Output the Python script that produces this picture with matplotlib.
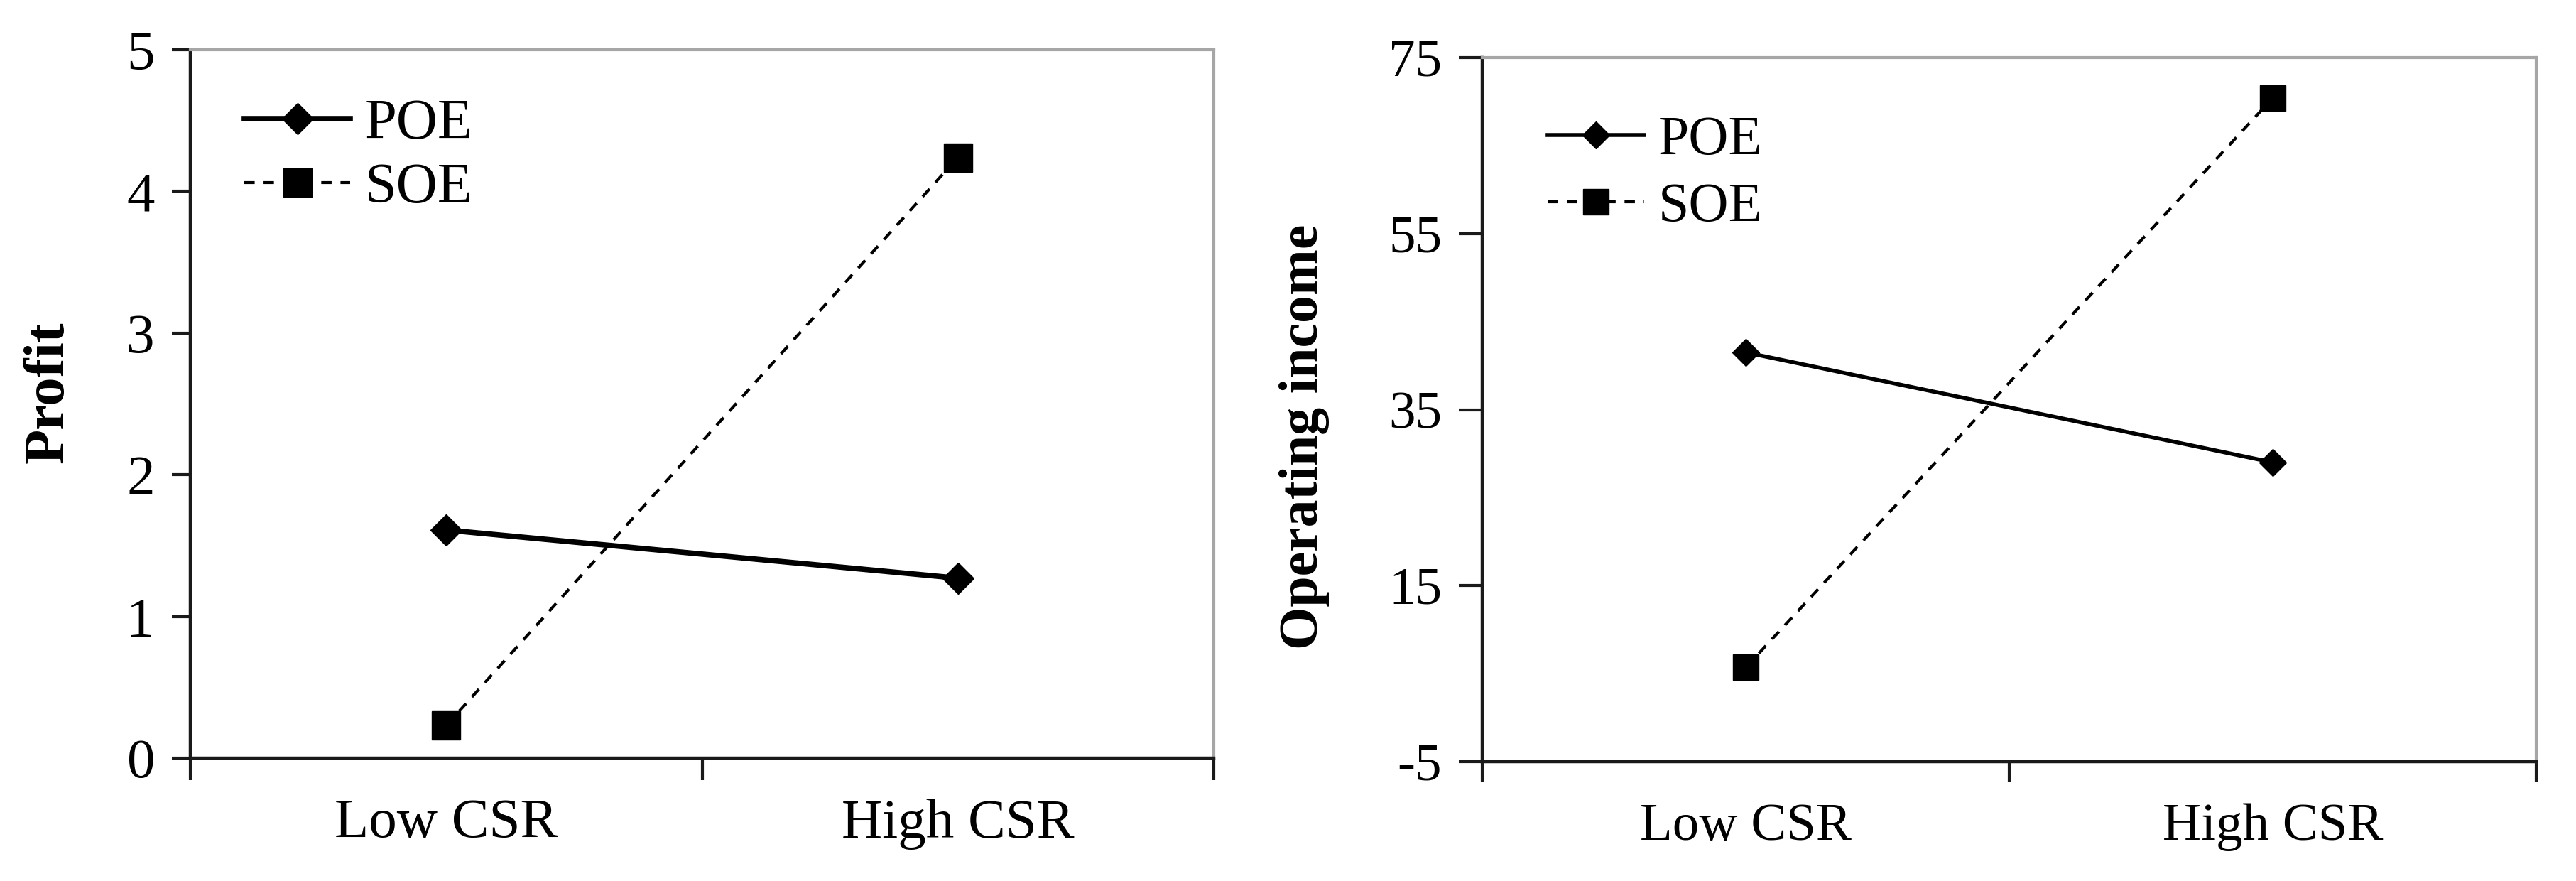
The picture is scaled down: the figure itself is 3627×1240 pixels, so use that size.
import numpy as np
import matplotlib
matplotlib.use('Agg')
import matplotlib.pyplot as plt

plt.rcParams['font.family'] = ['Liberation Serif', 'DejaVu Serif']
plt.rcParams['axes.unicode_minus'] = False

# data
groups = ['Low CSR', 'High CSR']
series = ['POE', 'SOE']
profit_poe = [1.61, 1.27]
profit_soe = [0.23, 4.24]
income_poe = [41.5, 29.0]
income_soe = [5.7, 70.4]

profit_ticks = [0, 1, 2, 3, 4, 5]
income_ticks = [-5, 15, 35, 55, 75]

W, H = 3627, 1240
fig = plt.figure(figsize=(W / 100, H / 100), dpi=100)

ax1 = fig.add_axes([268 / W, 1 - 1067 / H, 1441 / W, 997 / H])
ax2 = fig.add_axes([2087 / W, 1 - 1072 / H, 1484 / W, 991 / H])

dark = '#1a1a1a'
grey = '#a6a6a6'


def style(ax, fs, ytick_len, xtick_len, xpad):
    x = np.arange(len(groups))
    ax.set_xlim(-0.5, len(groups) - 0.5)
    ax.set_xticks([-0.5, 0.5, 1.5])
    ax.set_xticklabels([])
    ax.set_xticks(x, minor=True)
    ax.set_xticklabels(groups, minor=True, fontsize=fs)
    ax.tick_params(axis='x', which='major', direction='out', length=xtick_len,
                   width=3, color=dark)
    ax.tick_params(axis='x', which='minor', length=0, pad=xpad)
    ax.tick_params(axis='y', direction='out', length=ytick_len, width=3,
                   color=dark, labelsize=fs, pad=17)
    for s in ['left', 'bottom']:
        ax.spines[s].set_color(dark)
        ax.spines[s].set_linewidth(3.2)
    for s in ['top', 'right']:
        ax.spines[s].set_color(grey)
        ax.spines[s].set_linewidth(3)


def draw(ax, poe, soe, lw_poe, ms_d, ms_s):
    x = np.arange(len(groups))
    ax.plot(x, poe, color='black', lw=lw_poe, marker='D', ms=ms_d,
            label=series[0], clip_on=False, zorder=3)
    ax.plot(x, soe, color='black', lw=3, ls=(0, (3.5, 3.0)), marker='s',
            ms=ms_s, label=series[1], clip_on=False, zorder=3)


# left panel: profit
draw(ax1, profit_poe, profit_soe, 5.5, 22, 29)
ax1.set_ylim(0, 5)
ax1.set_yticks(profit_ticks)
style(ax1, 57, 19, 22, 41)
leg1 = ax1.legend(loc='upper left', bbox_to_anchor=(0.053, 0.931), frameon=False,
                  fontsize=58, handlelength=1.85, handletextpad=0.25,
                  labelspacing=0.21, borderpad=0, borderaxespad=0, numpoints=1)

# right panel: operating income
draw(ax2, income_poe, income_soe, 4, 19.5, 26)
ax2.set_ylim(-5, 75)
ax2.set_yticks(income_ticks)
style(ax2, 54, 24, 21, 42)
leg2 = ax2.legend(loc='upper left', bbox_to_anchor=(0.062, 0.918), frameon=False,
                  fontsize=56, handlelength=1.75, handletextpad=0.25,
                  labelspacing=0.29, borderpad=0, borderaxespad=0, numpoints=1)

fig.text(69 / W, 1 - 552 / H, 'Profit', rotation=90, ha='center', va='center',
         fontsize=58, fontweight='bold')
fig.text(1836 / W, 1 - 615 / H, 'Operating income', rotation=90, ha='center',
         va='center', fontsize=56, fontweight='bold')

fig.savefig('out.png', dpi=100, facecolor='white')
